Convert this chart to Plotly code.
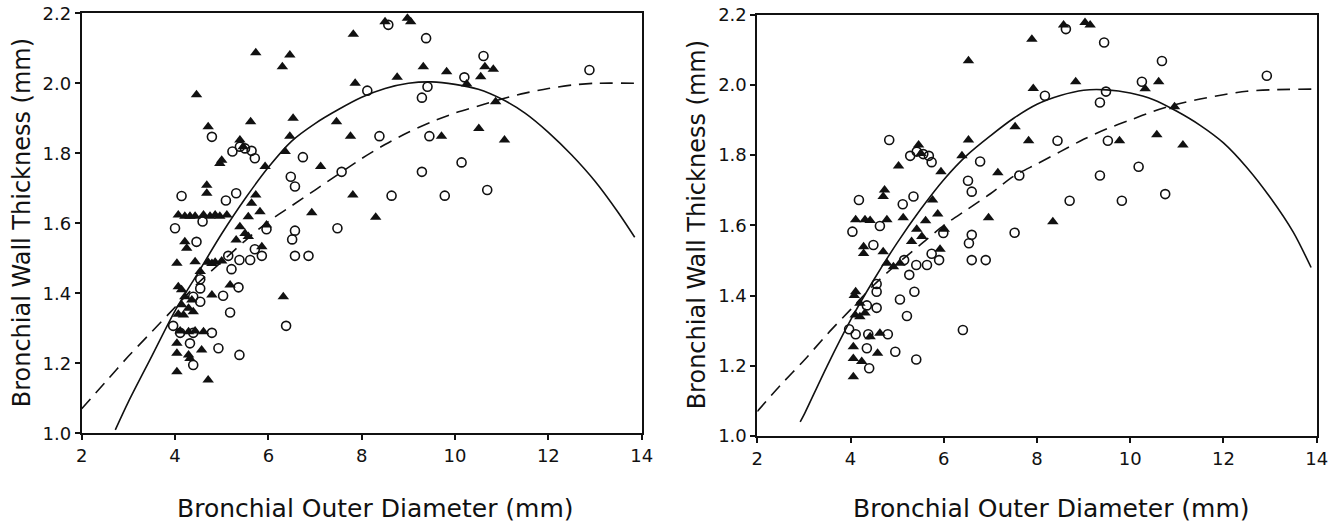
import plotly.graph_objects as go

# ---------------- data ----------------
left_tri_x = [8.50, 8.98, 9.05, 7.82, 9.32, 9.82, 10.64, 10.82, 10.55, 7.86, 8.76, 10.25, 10.87, 7.46, 7.76, 9.71, 10.51, 11.06, 7.81, 8.30,
              5.73, 6.46, 6.30, 4.46, 5.62, 6.53, 4.71, 6.46, 5.39, 5.46, 6.36, 4.96, 5.00, 5.93, 7.12, 4.68, 4.68, 5.73, 5.64, 5.82, 6.93,
              4.07, 4.21, 4.32, 4.43, 4.61, 4.75, 4.86, 4.96, 5.11,
              5.57, 5.39, 5.50, 5.31, 5.57, 5.96, 4.21, 4.25, 5.86, 4.04, 4.43, 4.71, 4.79, 4.86, 5.00, 4.54, 5.18, 4.07, 4.14, 4.79,
              4.21, 4.36, 4.14, 4.29, 4.39, 4.18, 4.07, 6.32, 4.11, 4.29, 4.43, 4.61, 4.04, 4.57, 4.04, 4.29, 4.32, 4.04, 4.71]
left_tri_y = [2.176, 2.186, 2.176, 2.140, 2.047, 2.033, 2.047, 2.040, 2.019, 2.000, 2.017, 1.998, 1.947, 1.890, 1.849, 1.849, 1.871, 1.838, 1.681, 1.617,
              2.087, 2.081, 2.047, 1.967, 1.890, 1.900, 1.876, 1.849, 1.838, 1.819, 1.805, 1.771, 1.780, 1.762, 1.762, 1.709, 1.686, 1.681, 1.657, 1.633, 1.630,
              1.624, 1.620, 1.620, 1.620, 1.624, 1.620, 1.624, 1.620, 1.624,
              1.619, 1.590, 1.571, 1.552, 1.562, 1.595, 1.547, 1.529, 1.533, 1.486, 1.490, 1.489, 1.485, 1.489, 1.492, 1.462, 1.424, 1.419, 1.410, 1.395,
              1.390, 1.381, 1.367, 1.357, 1.347, 1.338, 1.340, 1.390, 1.292, 1.290, 1.292, 1.290, 1.257, 1.238, 1.229, 1.224, 1.214, 1.176, 1.152]

left_cir_x = [8.57, 9.38, 10.61, 10.20, 8.12, 9.41, 9.29, 8.38, 9.45, 7.57, 9.29, 10.14, 8.64, 9.78, 10.69, 7.48, 12.88,
              4.79, 5.23, 5.39, 5.50, 5.64, 5.71, 6.74, 6.48, 6.57, 4.14, 5.31, 5.09, 4.00, 4.59, 6.57, 6.51, 5.96, 4.46,
              6.57, 6.86, 5.71, 5.86, 5.61, 5.38, 5.14, 5.21, 4.54, 4.54, 5.36, 5.03, 4.39, 4.54, 5.18, 6.38, 3.96,
              4.11, 4.39, 4.79, 4.32, 4.93, 5.38, 4.39]
left_cir_y = [2.167, 2.129, 2.078, 2.017, 1.979, 1.990, 1.959, 1.849, 1.849, 1.747, 1.747, 1.774, 1.679, 1.679, 1.695, 1.586, 2.038,
              1.847, 1.805, 1.819, 1.814, 1.807, 1.786, 1.789, 1.733, 1.705, 1.678, 1.686, 1.665, 1.586, 1.605, 1.579, 1.554, 1.583, 1.547,
              1.507, 1.507, 1.526, 1.507, 1.495, 1.495, 1.507, 1.469, 1.440, 1.414, 1.417, 1.393, 1.390, 1.376, 1.345, 1.307, 1.307,
              1.287, 1.287, 1.287, 1.257, 1.243, 1.224, 1.195]

right_tri_x = [8.57, 9.03, 9.14, 7.89, 7.92, 8.83, 10.32, 10.61, 10.95, 7.53, 7.82, 9.77, 10.57, 11.13, 8.34,
               6.53, 6.53, 5.46, 5.51, 6.39, 5.03, 5.94, 7.16, 4.73, 4.70, 5.76, 5.87, 6.96, 4.11, 4.31, 4.42, 4.78, 5.13, 5.61,
               5.42, 5.53, 5.31, 6.01, 4.28, 4.28, 4.70, 5.92, 4.78, 4.92, 5.06, 4.11, 4.08, 4.20, 4.31, 4.20, 4.10,
               4.63, 4.42, 4.06, 4.58, 4.06, 4.24, 4.06]
right_tri_y = [2.171, 2.178, 2.171, 2.130, 1.990, 2.009, 1.989, 2.009, 1.938, 1.881, 1.841, 1.841, 1.858, 1.829, 1.610,
               2.069, 1.843, 1.829, 1.805, 1.798, 1.769, 1.753, 1.750, 1.701, 1.682, 1.672, 1.632, 1.622, 1.616, 1.616, 1.614, 1.616, 1.622, 1.613,
               1.589, 1.568, 1.554, 1.589, 1.539, 1.520, 1.525, 1.532, 1.492, 1.482, 1.492, 1.411, 1.400, 1.378, 1.350, 1.340, 1.345,
               1.293, 1.283, 1.254, 1.236, 1.221, 1.212, 1.169]

right_cir_x = [8.62, 9.44, 10.68, 10.25, 8.17, 9.48, 9.35, 8.44, 9.52, 7.62, 9.35, 10.18, 8.70, 9.82, 10.75, 7.52, 12.93,
               4.83, 5.28, 5.42, 5.56, 5.68, 5.74, 6.78, 6.52, 6.60, 4.18, 5.35, 5.12, 4.04, 4.63, 6.60, 6.54, 5.99, 4.49,
               6.60, 6.90, 5.74, 5.90, 5.64, 5.41, 5.15, 5.26, 4.56, 4.56, 5.37, 5.06, 4.35, 4.56, 5.21, 6.41, 3.97,
               4.11, 4.38, 4.80, 4.35, 4.96, 5.41, 4.40]
right_cir_y = [2.159, 2.121, 2.068, 2.009, 1.969, 1.981, 1.950, 1.841, 1.841, 1.742, 1.742, 1.767, 1.670, 1.670, 1.689, 1.579, 2.026,
               1.843, 1.798, 1.810, 1.803, 1.798, 1.780, 1.782, 1.727, 1.696, 1.672, 1.682, 1.660, 1.582, 1.598, 1.573, 1.549, 1.578, 1.544,
               1.501, 1.501, 1.519, 1.501, 1.487, 1.487, 1.501, 1.459, 1.433, 1.411, 1.411, 1.389, 1.372, 1.365, 1.342, 1.302, 1.304,
               1.290, 1.290, 1.290, 1.250, 1.240, 1.218, 1.193]

# fitted curves
left_solid_x = [2.72, 3.0, 3.5, 4.0, 4.5, 5.0, 5.5, 6.0, 6.5, 7.0, 7.5, 8.0, 8.5, 9.0, 9.5, 10.0, 10.5, 11.0, 11.5, 12.0, 12.5, 13.0, 13.5, 13.85]
left_solid_y = [1.01, 1.09, 1.22, 1.35, 1.46, 1.57, 1.67, 1.76, 1.835, 1.885, 1.925, 1.96, 1.985, 2.0, 2.004, 1.997, 1.983, 1.955, 1.915, 1.86, 1.795, 1.72, 1.63, 1.56]
left_dash_x = [2.0, 2.5, 3.0, 3.5, 4.0, 4.5, 5.0, 5.5, 6.0, 6.5, 7.0, 7.5, 8.0, 8.5, 9.0, 9.5, 10.0, 10.5, 11.0, 11.5, 12.0, 12.5, 13.0, 13.85]
left_dash_y = [1.07, 1.145, 1.22, 1.29, 1.36, 1.43, 1.49, 1.55, 1.605, 1.65, 1.695, 1.74, 1.785, 1.825, 1.86, 1.89, 1.915, 1.935, 1.955, 1.972, 1.985, 1.995, 2.0, 2.0]

right_solid_x = [2.92, 3.0, 3.5, 4.0, 4.5, 5.0, 5.5, 6.0, 6.5, 7.0, 7.5, 8.0, 8.5, 9.0, 9.5, 10.0, 10.5, 11.0, 11.5, 12.0, 12.5, 13.0, 13.5, 13.88]
right_solid_y = [1.04, 1.06, 1.20, 1.33, 1.445, 1.55, 1.645, 1.73, 1.80, 1.855, 1.905, 1.945, 1.97, 1.985, 1.986, 1.977, 1.958, 1.925, 1.885, 1.835, 1.765, 1.68, 1.58, 1.48]
right_dash_x = [2.0, 2.5, 3.0, 3.5, 4.0, 4.5, 5.0, 5.5, 6.0, 6.5, 7.0, 7.5, 8.0, 8.5, 9.0, 9.5, 10.0, 10.5, 11.0, 11.5, 12.0, 12.5, 13.0, 13.9]
right_dash_y = [1.07, 1.145, 1.215, 1.29, 1.36, 1.43, 1.49, 1.545, 1.60, 1.645, 1.69, 1.74, 1.775, 1.81, 1.845, 1.875, 1.90, 1.925, 1.945, 1.96, 1.972, 1.982, 1.986, 1.988]

x_ticks = [2, 4, 6, 8, 10, 12, 14]
y_ticks = [1.0, 1.2, 1.4, 1.6, 1.8, 2.0, 2.2]
y_tick_text = ["1.0", "1.2", "1.4", "1.6", "1.8", "2.0", "2.2"]
x_title = "Bronchial Outer Diameter (mm)"
y_title = "Bronchial Wall Thickness (mm)"

# ---------------- figure ----------------
W, H = 1338, 527
INK = "#111111"
FONT = "DejaVu Sans, Verdana, sans-serif"

fig = go.Figure()

panels = [
    ("x", "y", left_tri_x, left_tri_y, left_cir_x, left_cir_y, left_solid_x, left_solid_y, left_dash_x, left_dash_y),
    ("x2", "y2", right_tri_x, right_tri_y, right_cir_x, right_cir_y, right_solid_x, right_solid_y, right_dash_x, right_dash_y),
]
for xa, ya, tx, ty, cx, cy, sx, sy, dx, dy in panels:
    fig.add_trace(go.Scatter(x=sx, y=sy, mode="lines", xaxis=xa, yaxis=ya,
                             line=dict(color=INK, width=1.6, shape="spline", smoothing=0.8), showlegend=False, hoverinfo="skip"))
    fig.add_trace(go.Scatter(x=dx, y=dy, mode="lines", xaxis=xa, yaxis=ya,
                             line=dict(color=INK, width=1.6, dash="13px,8px", shape="spline", smoothing=0.8), showlegend=False, hoverinfo="skip"))
    fig.add_trace(go.Scatter(x=cx, y=cy, mode="markers", xaxis=xa, yaxis=ya,
                             marker=dict(symbol="circle-open", size=9, color=INK, line=dict(width=1.6, color=INK)),
                             showlegend=False))
    fig.add_trace(go.Scatter(x=tx, y=ty, mode="markers", xaxis=xa, yaxis=ya,
                             marker=dict(symbol="triangle-up", size=10, color=INK, line=dict(width=0)),
                             showlegend=False))

# plot-area positions measured in the reference (pixels)
L = dict(x0=81.7, x1=641.7, y0=13.3, y1=433.3)
R = dict(x0=757.3, x1=1316.7, y0=14.7, y1=436.0)

def xdom(p):
    return [p["x0"] / W, p["x1"] / W]

def ydom(p):
    return [1 - p["y1"] / H, 1 - p["y0"] / H]

axis_common = dict(showgrid=False, zeroline=False, showline=True, linecolor=INK, linewidth=1.8,
                   mirror=True, ticks="outside", ticklen=5, tickwidth=1.5, tickcolor=INK,
                   tickfont=dict(family=FONT, size=18, color=INK), automargin=False)

fig.update_layout(
    width=W, height=H,
    margin=dict(l=0, r=0, t=0, b=0),
    paper_bgcolor="white", plot_bgcolor="white",
    font=dict(family=FONT, color=INK),
    xaxis=dict(domain=xdom(L), range=[2, 14], tickvals=x_ticks, anchor="y", **axis_common),
    yaxis=dict(domain=ydom(L), range=[1.0, 2.2], tickvals=y_ticks, ticktext=y_tick_text, anchor="x", **axis_common),
    xaxis2=dict(domain=xdom(R), range=[2, 14], tickvals=x_ticks, anchor="y2", **axis_common),
    yaxis2=dict(domain=ydom(R), range=[1.0, 2.2], tickvals=y_ticks, ticktext=y_tick_text, anchor="x2", **axis_common),
)

ann = []
for p, ycx in ((L, 22), (R, 697)):
    ann.append(dict(text=x_title, x=((p["x0"] + p["x1"]) / 2 + 14) / W, y=1 - 508 / H, xref="paper", yref="paper",
                    showarrow=False, xanchor="center", yanchor="middle",
                    font=dict(family=FONT, size=25, color=INK)))
    ann.append(dict(text=y_title, x=ycx / W, y=1 - ((p["y0"] + p["y1"]) / 2) / H, xref="paper", yref="paper",
                    showarrow=False, xanchor="center", yanchor="middle", textangle=-90,
                    font=dict(family=FONT, size=24, color=INK)))
fig.update_layout(annotations=ann)

# remove the default page margin so the figure sits at the window's top-left corner
fig.write_html("out.html", config={"displayModeBar": False},
               post_script="document.body.style.margin='0';document.body.style.overflow='hidden';")
